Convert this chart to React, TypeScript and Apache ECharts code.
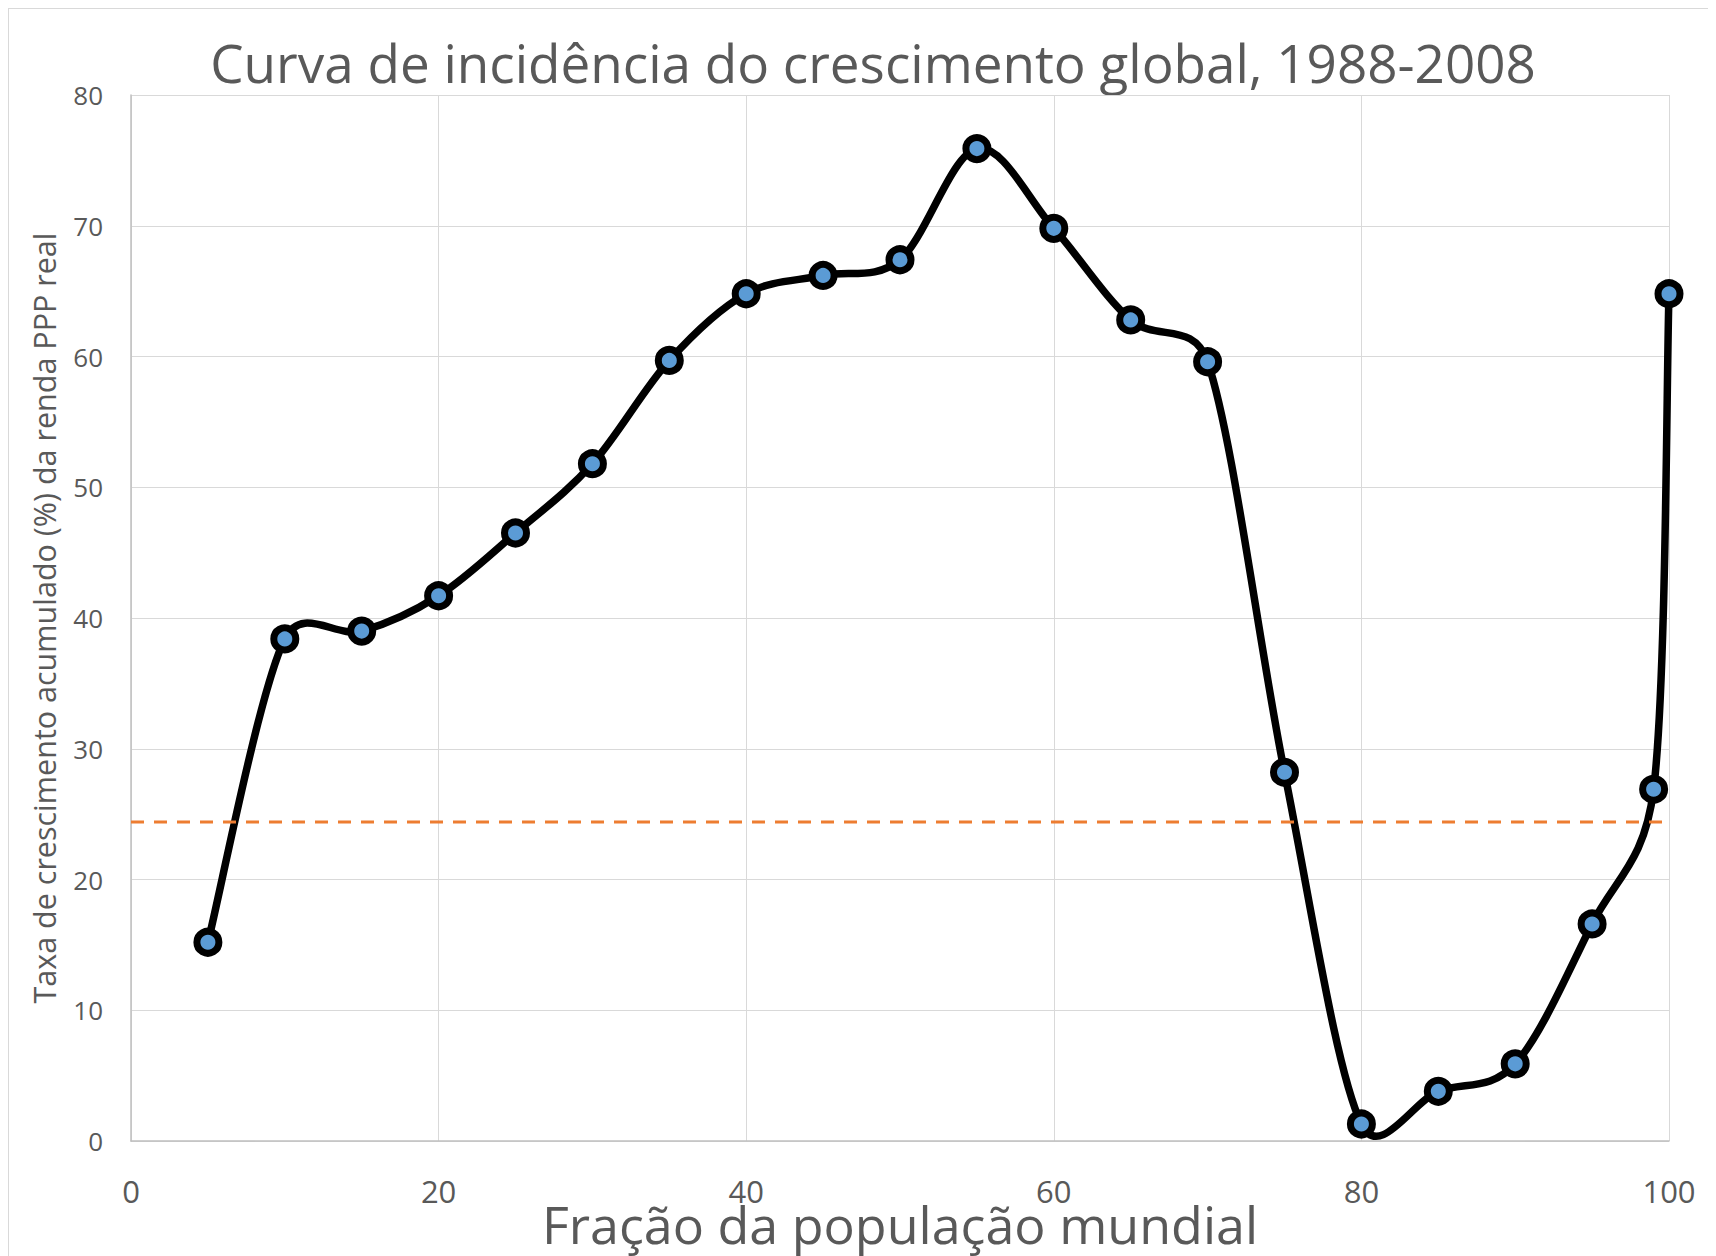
import React, { useEffect, useRef } from "react";
import * as echarts from "echarts";

const titleText = "Curva de incidência do crescimento global, 1988-2008";
const xAxisName = "Fração da população mundial";
const yAxisName = "Taxa de crescimento acumulado (%) da renda PPP real";

const percentiles = [5, 10, 15, 20, 25, 30, 35, 40, 45, 50, 55, 60, 65, 70, 75, 80, 85, 90, 95, 99, 100];
const growth = [15.2, 38.4, 39.0, 41.7, 46.5, 51.8, 59.7, 64.8, 66.2, 67.4, 75.9, 69.8, 62.8, 59.6, 28.2, 1.3, 3.8, 5.9, 16.6, 26.9, 64.8];
const averageX = [0, 100];
const averageY = [24.4, 24.4];

const FONT = "'Open Sans', 'DejaVu Sans', sans-serif";
const GRAY = "#595959";

export default function App() {
  const ref = useRef<HTMLDivElement>(null);
  useEffect(() => {
    if (!ref.current) return;
    const chart = echarts.init(ref.current, undefined, { renderer: "svg" });
    const pts = percentiles.map((x, i) => [x, growth[i]]);
    const n = pts.length;
    const dist = (a: number[], b: number[]) => Math.hypot(a[0] - b[0], a[1] - b[1]);
    const option: any = {
      animation: false,
      backgroundColor: "#ffffff",
      textStyle: { fontFamily: FONT },
      graphic: [
        {
          type: "text",
          x: 864,
          y: 27,
          style: {
            text: titleText,
            fontSize: 53,
            fill: GRAY,
            fontFamily: FONT,
            align: "center",
            verticalAlign: "top",
          },
        },
      ],
      grid: { left: 122, right: 47, top: 86, bottom: 115, outerBoundsMode: "none", containLabel: false },
      xAxis: {
        type: "value",
        min: 0,
        max: 100,
        interval: 20,
        name: xAxisName,
        nameLocation: "middle",
        nameGap: 56,
        nameMoveOverlap: false,
        nameTextStyle: { fontSize: 52, color: GRAY, fontFamily: FONT },
        axisLine: { show: true, lineStyle: { color: "#bfbfbf", width: 1.5 } },
        axisTick: { show: false },
        axisLabel: { fontSize: 31, color: GRAY, margin: 34, fontFamily: FONT },
        splitLine: { show: true, lineStyle: { color: "#d9d9d9", width: 1 } },
      },
      yAxis: {
        type: "value",
        min: 0,
        max: 80,
        interval: 10,
        name: yAxisName,
        nameLocation: "middle",
        nameGap: 72,
        nameRotate: 90,
        nameTextStyle: { fontSize: 30.5, color: GRAY, fontFamily: FONT },
        axisLine: { show: true, lineStyle: { color: "#bfbfbf", width: 1.5 } },
        axisTick: { show: false },
        axisLabel: { fontSize: 26, color: GRAY, margin: 28, fontFamily: FONT },
        splitLine: { show: true, lineStyle: { color: "#d9d9d9", width: 1 } },
      },
      series: [
        {
          type: "custom",
          clip: false,
          z: 2,
          data: pts,
          encode: { x: 0, y: 1 },
          renderItem: (params: any, api: any) => {
            const i = params.dataIndex;
            if (i >= n - 1) return null;
            const c = (k: number) => {
              const kk = Math.max(0, Math.min(n - 1, k));
              return api.coord(pts[kk]);
            };
            const p0 = c(i - 1), p1 = c(i), p2 = c(i + 1), p3 = c(i + 2);
            const d12 = dist(p1, p2);
            const d02 = dist(p0, p2);
            const d13 = dist(p1, p3);
            let f1 = 1 / 6;
            let f2 = 1 / 6;
            if (d02 / 6 > d12 / 2 && d02 > 0) f1 = d12 / d02 / 2;
            if (d13 / 6 > d12 / 2 && d13 > 0) f2 = d12 / d13 / 2;
            return {
              type: "bezierCurve",
              shape: {
                x1: p1[0], y1: p1[1],
                x2: p2[0], y2: p2[1],
                cpx1: p1[0] + (p2[0] - p0[0]) * f1,
                cpy1: p1[1] + (p2[1] - p0[1]) * f1,
                cpx2: p2[0] - (p3[0] - p1[0]) * f2,
                cpy2: p2[1] - (p3[1] - p1[1]) * f2,
              },
              style: { stroke: "#000000", lineWidth: 7.5, fill: null, lineCap: "round" },
            };
          },
        },
        {
          type: "line",
          z: 3,
          data: averageX.map((x, i) => [x, averageY[i]]),
          symbol: "none",
          lineStyle: { color: "#ED7D31", width: 3, type: [13, 10] },
        },
        {
          type: "scatter",
          z: 4,
          data: pts,
          symbol: "circle",
          symbolSize: 22,
          itemStyle: { color: "#5B9BD5", borderColor: "#000000", borderWidth: 7, opacity: 1 },
        },
      ],
    };
    chart.setOption(option);
    return () => chart.dispose();
  }, []);
  return (
    <div
      ref={ref}
      style={{
        width: 1708,
        height: 1248,
        borderLeft: "1px solid #d9d9d9",
        borderTop: "1px solid #d9d9d9",
        boxSizing: "border-box",
      }}
    />
  );
}
